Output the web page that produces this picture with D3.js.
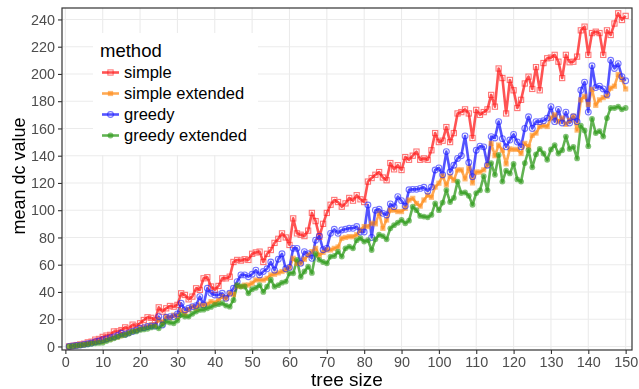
<!DOCTYPE html>
<html>
<head>
<meta charset="utf-8">
<script src="https://cdn.jsdelivr.net/npm/d3@7"></script>
<style>
  body { margin: 0; background: #fff; }
  svg { font-family: "Liberation Sans", Arial, sans-serif; }
</style>
</head>
<body>
<svg id="chart" width="639" height="389"></svg>
<script>
// tree sizes 1..150
const treeSizes = d3.range(1, 151);

const simple = [
  0, 0.5, 1, 1.5, 2, 3, 3.5, 5, 5.5, 7,
  8, 8.5, 11, 11, 12, 14, 13, 16, 15, 17,
  19.4, 21.4, 21, 19.4, 28.7, 25.6, 28, 29.7, 29.2, 30.5,
  39, 37.8, 34.6, 36.6, 42.7, 41.5, 50, 50.8, 44, 41.5,
  44.4, 50, 50, 51.2, 62, 63.5, 63, 64, 63.5, 68,
  69, 69.6, 62, 68, 70.8, 76, 79, 83, 80, 74.5,
  94, 83, 82, 81, 85, 98, 92, 80.6, 90, 98,
  104, 107.5, 106, 102.6, 105, 109, 107, 111, 108, 106,
  121, 123.6, 126, 128, 124, 122, 134.6, 130, 133, 129.5,
  139, 137, 140, 143, 137, 138, 137, 144, 156.6, 150,
  151, 161, 150, 156.6, 171, 172, 174, 171, 153, 173.6,
  170, 172, 174, 184.6, 176, 204, 197, 171, 195.6, 188,
  175, 181, 193, 198, 189, 205, 188, 208, 211.5, 212,
  214, 209, 197, 214, 208.6, 209, 212.7, 232, 234.7, 214,
  230, 231, 230, 214, 232, 228.6, 237, 244.5, 239.6, 242.6
];

const simpleExtended = [
  0, 0.3, 0.6, 1, 1.4, 2, 2.5, 3, 3.5, 4,
  5, 5.5, 6.5, 7, 8, 9, 10, 11, 12, 13,
  14, 15, 16, 15.5, 19.4, 18, 21.9, 21, 23, 22,
  26.3, 24, 27, 29.2, 28, 30.5, 30, 31, 32.9, 32,
  34, 36.6, 35, 39, 38, 44.4, 44, 45, 45.1, 46.4,
  48.8, 49, 48.8, 50, 52.5, 53, 54, 55, 56, 57.8,
  64.7, 61, 61, 64, 67, 69.6, 72, 67, 69, 70.8,
  70.8, 72, 73, 79.4, 80, 80.6, 80.6, 82, 85.5, 88,
  88, 90.4, 90, 97.7, 86.7, 92.8, 100, 100, 99, 99,
  101.4, 107.5, 108.7, 105, 103, 107.5, 111, 109.5, 117, 119.8,
  125, 118.5, 125, 122, 129.6, 129.6, 123, 131, 120, 128,
  128, 129.6, 133, 149, 140, 147.8, 144, 134, 145, 144.6,
  144.6, 141.6, 149, 146.5, 155, 156.6, 161.4, 162, 161.4, 167.6,
  170, 165, 167.6, 163, 166, 169, 158.8, 181, 183.6, 177.6,
  188.6, 177, 181, 182.6, 183.6, 189.6, 191, 199.6, 196, 189
];

const greedy = [
  0, 0.3, 0.7, 1, 1.5, 2, 2.5, 3.5, 4, 5,
  5.5, 6.5, 7, 8, 9.7, 9, 10, 11, 12, 13.3,
  13.8, 14.6, 15, 15, 21.9, 15.8, 21.4, 21.9, 21.9, 23.9,
  31.7, 26.8, 28, 29.2, 30, 36.6, 30.5, 42.7, 39, 37.8,
  37.8, 39, 35.3, 39, 42.7, 47.6, 52.5, 52.5, 51.2, 53,
  56, 52.5, 55, 57, 62, 56, 64, 68, 57, 58,
  72, 72, 61, 69.6, 68, 64.7, 78, 81, 71, 72,
  83, 86, 83, 85.5, 86, 86.7, 86.7, 88, 84, 84,
  103.8, 80, 100, 100.7, 97.7, 96.5, 104.6, 102.6, 110, 107,
  103, 115, 115.3, 115.3, 116, 116.8, 114, 117, 129.5, 131,
  126, 143, 128, 133, 138, 140, 154.5, 135, 124.6, 144,
  147, 146.5, 133, 154, 153, 165, 152.5, 146.5, 151.5, 155.6,
  150, 146.5, 160, 168.6, 160, 165, 165, 165.6, 167.6, 176,
  165, 174, 164, 172, 164, 168.6, 165, 188, 194, 172,
  206, 190, 191, 189, 185, 210, 204, 207.6, 198, 195
];

const greedyExtended = [
  0, 0.3, 0.6, 0.9, 1.2, 1.5, 2, 2.3, 2.6, 2.8,
  4, 5, 6, 7, 8, 8.4, 9.5, 10.9, 11, 12.1,
  12.5, 13, 14, 14.6, 13.3, 16, 18.2, 17.5, 17, 19,
  23, 22, 21.9, 24, 25.6, 26.8, 27, 28, 29, 30.5,
  31, 31.7, 30, 29.2, 34, 45, 44, 44, 39, 42,
  43, 45, 40, 43.9, 49, 43.9, 45, 46.8, 47.6, 53.7,
  53.7, 63.5, 51, 55, 58.6, 54, 68, 63.5, 62, 61,
  66, 66.4, 69.6, 66, 72, 73.3, 72, 78, 79.4, 77,
  78, 70.8, 78.6, 82, 81, 78.6, 86.7, 89, 90.8, 92.8,
  90.4, 92.3, 102.6, 100, 95.8, 95.3, 94.8, 96.5, 105, 100,
  105.6, 114.8, 106, 109, 121, 112.6, 113, 110.6, 104, 112.6,
  114.6, 125, 114.6, 134.6, 126, 140.6, 121, 129, 127, 134,
  122.6, 121, 134.6, 144, 131.5, 141, 145, 141.6, 137, 144.6,
  147.8, 141.6, 144, 154, 145, 146.5, 138, 162, 158.5, 147,
  167, 156.6, 158, 154, 167.6, 175, 175, 176, 174, 175
];

const methods = ["simple", "simple extended", "greedy", "greedy extended"];
const colors = ["#ff1a1a", "#ff8c1a", "#1a1aff", "#2e9a1a"];
const shapes = ["squareOpen", "square", "circleOpen", "circle"];
const xTicks = d3.range(0, 151, 10);
const yTicks = d3.range(0, 241, 20);

const seriesData = [simple, simpleExtended, greedy, greedyExtended].map((vals, i) => ({
  name: methods[i],
  color: colors[i],
  shape: shapes[i],
  points: vals.map((v, j) => ({ n: treeSizes[j], v: v }))
}));

const svg = d3.select("#chart");
const panel = { left: 62, right: 632, top: 8, bottom: 350 };

const x = d3.scaleLinear().domain([-0.9, 151.7]).range([panel.left, panel.right]);
const y = d3.scaleLinear().domain([-2.6, 248.4]).range([panel.bottom, panel.top]);

// grid
const grid = svg.append("g").attr("stroke", "#ebebeb").attr("stroke-width", 1.1);
grid.selectAll("line.gx").data(xTicks).join("line")
  .attr("x1", d => x(d)).attr("x2", d => x(d))
  .attr("y1", panel.top).attr("y2", panel.bottom);
grid.selectAll("line.gy").data(yTicks).join("line")
  .attr("x1", panel.left).attr("x2", panel.right)
  .attr("y1", d => y(d)).attr("y2", d => y(d));

// lines then points
const line = d3.line().x(d => x(d.n)).y(d => y(d.v));
svg.append("g").selectAll("path").data(seriesData).join("path")
  .attr("d", d => line(d.points))
  .attr("fill", "none")
  .attr("stroke", d => d.color)
  .attr("stroke-opacity", 0.75)
  .attr("stroke-width", 2.6)
  .attr("stroke-linejoin", "round");

const drawMarker = (g, shape, color) => {
  if (shape === "square") {
    g.append("rect").attr("x", -2.6).attr("y", -2.6).attr("width", 5.2).attr("height", 5.2)
      .attr("fill", color);
  } else if (shape === "squareOpen") {
    g.append("rect").attr("x", -2.6).attr("y", -2.6).attr("width", 5.2).attr("height", 5.2)
      .attr("fill", "none").attr("stroke", color).attr("stroke-width", 1.1);
  } else if (shape === "circle") {
    g.append("circle").attr("r", 2.9).attr("fill", color);
  } else {
    g.append("circle").attr("r", 2.9).attr("fill", "none")
      .attr("stroke", color).attr("stroke-width", 1.1);
  }
};

seriesData.forEach(s => {
  const pts = svg.append("g").attr("opacity", 0.6)
    .selectAll("g").data(s.points).join("g")
    .attr("transform", d => `translate(${x(d.n)},${y(d.v)})`);
  pts.each(function () { drawMarker(d3.select(this), s.shape, s.color); });
});

// panel border
svg.append("rect")
  .attr("x", panel.left).attr("y", panel.top)
  .attr("width", panel.right - panel.left).attr("height", panel.bottom - panel.top)
  .attr("fill", "none").attr("stroke", "#333").attr("stroke-width", 1.2);

// axes
const xAxis = svg.append("g").attr("transform", `translate(0,${panel.bottom})`)
  .call(d3.axisBottom(x).tickValues(xTicks).tickSize(4).tickPadding(3));
const yAxis = svg.append("g").attr("transform", `translate(${panel.left},0)`)
  .call(d3.axisLeft(y).tickValues(yTicks).tickSize(4).tickPadding(3));
[xAxis, yAxis].forEach(a => {
  a.select(".domain").remove();
  a.selectAll(".tick line").attr("stroke", "#333").attr("stroke-width", 1.1);
  a.selectAll(".tick text").attr("fill", "#4d4d4d").style("font-size", "14.4px");
});

svg.append("text").attr("x", 347).attr("y", 386)
  .attr("text-anchor", "middle").style("font-size", "19px").text("tree size");
svg.append("text").attr("transform", "translate(25,176) rotate(-90)")
  .attr("text-anchor", "middle").style("font-size", "18px").text("mean dc value");

// legend
const legend = svg.append("g");
legend.append("rect").attr("x", 93).attr("y", 33).attr("width", 165).attr("height", 122)
  .attr("fill", "#fff");
legend.append("text").attr("x", 100).attr("y", 57).style("font-size", "18.5px").text("method");
seriesData.forEach((s, i) => {
  const cy = 72.5 + i * 21;
  const item = legend.append("g");
  item.append("line").attr("x1", 102).attr("x2", 119).attr("y1", cy).attr("y2", cy)
    .attr("stroke", s.color).attr("stroke-opacity", 0.75).attr("stroke-width", 2.6);
  const m = item.append("g").attr("transform", `translate(110.5,${cy})`).attr("opacity", 0.6);
  drawMarker(m, s.shape, s.color);
  item.append("text").attr("x", 124).attr("y", cy + 5.5).style("font-size", "16.5px").text(s.name);
});
</script>
</body>
</html>
